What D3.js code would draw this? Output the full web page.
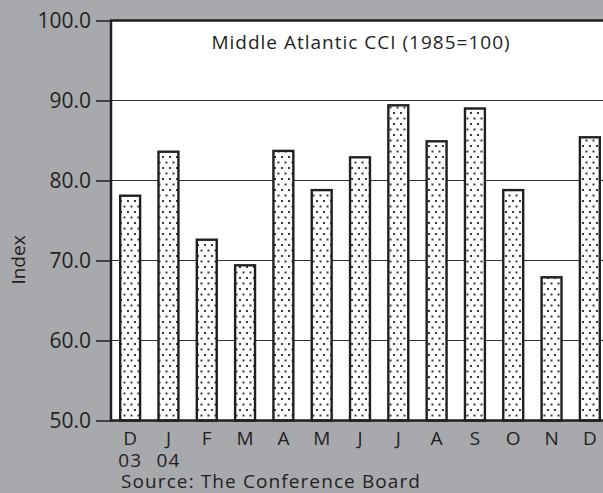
<!DOCTYPE html>
<meta charset="utf-8">
<head>
	<title>Middle Atlantic CCI</title>
	<script src="https://cdnjs.cloudflare.com/ajax/libs/d3/7.8.5/d3.min.js"></script>
</head>
<style>
	body { margin: 0; background: #a8a9ad; }
	svg { display: block; }
	text { font-family: "Open Sans", "Noto Sans", sans-serif; fill: #231f20; }
</style>
<body>
<script>
	// values
	var months = ["D", "J", "F", "M", "A", "M", "J", "J", "A", "S", "O", "N", "D"];
	var years = ["03", "04", "", "", "", "", "", "", "", "", "", "", ""];
	var cci = [78.1, 83.6, 72.6, 69.4, 83.7, 78.8, 82.9, 89.4, 84.9, 89.0, 78.8, 67.9, 85.4];
	var yTicks = [50, 60, 70, 80, 90, 100];

	var W = 603, H = 493;
	var plotLeft = 111, plotTop = 20.5, plotBottom = 420.5, plotRight = 609;

	var svg = d3.select("body").append("svg")
		.attr("width", W)
		.attr("height", H);

	// dotted fill for the bars
	var pat = svg.append("defs").append("pattern")
		.attr("id", "dots")
		.attr("patternUnits", "userSpaceOnUse")
		.attr("width", 7)
		.attr("height", 11);
	pat.append("rect").attr("width", 7).attr("height", 11).attr("fill", "#fff");
	pat.append("rect").attr("x", 1).attr("y", 2).attr("width", 2).attr("height", 2).attr("fill", "#3a3a3a");
	pat.append("rect").attr("x", 4.5).attr("y", 7.5).attr("width", 2).attr("height", 2).attr("fill", "#3a3a3a");

	var x = d3.scaleBand()
		.domain(d3.range(months.length))
		.range([plotLeft, plotRight])
		.paddingInner(0.48)
		.paddingOuter(0.24);

	var y = d3.scaleLinear()
		.domain([50, 100])
		.range([plotBottom, plotTop]);

	// plot area
	svg.append("rect")
		.attr("x", plotLeft).attr("y", plotTop)
		.attr("width", plotRight - plotLeft).attr("height", plotBottom - plotTop)
		.attr("fill", "#fff");

	// grid lines
	svg.append("g")
		.selectAll("line")
		.data(yTicks.slice(1, -1))
		.join("line")
		.attr("x1", plotLeft).attr("x2", plotRight)
		.attr("y1", function(d) { return y(d); })
		.attr("y2", function(d) { return y(d); })
		.attr("stroke", "#333")
		.attr("stroke-width", 1.2);

	// bars
	svg.append("g")
		.selectAll("rect")
		.data(cci)
		.join("rect")
		.attr("x", function(d, i) { return x(i); })
		.attr("width", x.bandwidth())
		.attr("y", function(d) { return y(d); })
		.attr("height", function(d) { return y(50) - y(d); })
		.attr("fill", "url(#dots)")
		.attr("stroke", "#231f20")
		.attr("stroke-width", 2.4);

	// frame
	svg.append("rect")
		.attr("x", plotLeft).attr("y", plotTop)
		.attr("width", plotRight - plotLeft).attr("height", plotBottom - plotTop)
		.attr("fill", "none")
		.attr("stroke", "#231f20")
		.attr("stroke-width", 2.5);

	// y axis
	var yAxis = svg.append("g")
		.attr("transform", "translate(" + plotLeft + ",0)")
		.call(d3.axisLeft(y).tickValues(yTicks).tickFormat(d3.format(".1f")).tickSize(15).tickPadding(5));
	yAxis.select(".domain").remove();
	yAxis.selectAll(".tick line").attr("stroke", "#231f20").attr("stroke-width", 1.5);
	yAxis.selectAll(".tick text")
		.attr("font-size", 21)
		.attr("fill", "#231f20")
		.attr("font-family", "'Open Sans', sans-serif");

	// month labels
	svg.append("g")
		.selectAll("text")
		.data(months)
		.join("text")
		.attr("x", function(d, i) { return x(i) + x.bandwidth() / 2; })
		.attr("y", 445)
		.attr("text-anchor", "middle")
		.attr("font-size", 19)
		.text(function(d) { return d; });

	svg.append("g")
		.selectAll("text")
		.data(years)
		.join("text")
		.attr("x", function(d, i) { return x(i) + x.bandwidth() / 2; })
		.attr("y", 467)
		.attr("text-anchor", "middle")
		.attr("font-size", 19)
		.attr("letter-spacing", 1)
		.text(function(d) { return d; });

	svg.append("text")
		.attr("x", 121)
		.attr("y", 488)
		.attr("font-size", 19)
		.attr("letter-spacing", 1.1)
		.text("Source:  The Conference Board");

	svg.append("text")
		.attr("x", 361)
		.attr("y", 49)
		.attr("text-anchor", "middle")
		.attr("font-size", 19)
		.attr("letter-spacing", 1)
		.text("Middle Atlantic CCI (1985=100)");

	svg.append("text")
		.attr("transform", "translate(25,260) rotate(-90)")
		.attr("text-anchor", "middle")
		.attr("font-size", 19)
		.attr("fill", "#333")
		.text("Index");
</script>
</body>
